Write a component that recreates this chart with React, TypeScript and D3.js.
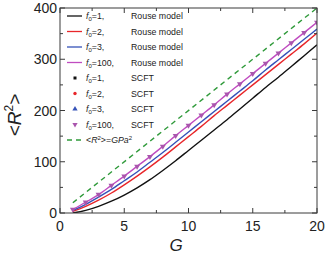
import React from "react";
import * as d3 from "d3";

const G = [1, 2, 3, 4, 5, 6, 7, 8, 9, 10, 11, 12, 13, 14, 15, 16, 17, 18, 19, 20];
const rouseF1 = [0, 5, 13, 23, 35, 49, 65, 83, 102, 122, 142, 162, 182, 203, 224, 245, 265, 286, 307, 328];
const rouseF2 = [3, 13, 25, 39, 55, 72, 90, 109, 129, 149, 169, 190, 210, 230, 250, 270, 290, 310, 330, 351];
const rouseF3 = [5, 17, 31, 46, 63, 80, 99, 118, 138, 158, 178, 198, 218, 238, 258, 279, 299, 319, 339, 359];
const rouseF100 = [7, 21, 36, 54, 72, 91, 110, 130, 151, 171, 191, 211, 232, 252, 272, 292, 312, 332, 352, 372];
const scftF100 = [7, 21, 36, 54, 72, 91, 110, 130, 151, 171, 191, 211, 232, 252, 272, 292, 312, 332, 352, 372];
const idealG = [1, 20];
const idealR2 = [20, 400];

const xTicks = [0, 5, 10, 15, 20];
const yTicks = [0, 100, 200, 300, 400];
const xMinor = [2.5, 7.5, 12.5, 17.5];
const yMinor = [50, 150, 250, 350];

const legendLabels = ["1,", "2,", "3,", "100,", "1,", "2,", "3,", "100,"];
const legendKinds = ["Rouse model", "Rouse model", "Rouse model", "Rouse model", "SCFT", "SCFT", "SCFT", "SCFT"];

const BLACK = "#111111";
const RED = "#e8262a";
const BLUE = "#3552b8";
const MAG = "#c04cc0";
const MAGM = "#a955ad";
const GREEN = "#2f9a3a";
const colors = [BLACK, RED, BLUE, MAG, BLACK, RED, BLUE, MAGM];

export default function App() {
  const W = 326, H = 255;
  const L = 60, R = 317, T = 8, B = 213;
  const x = d3.scaleLinear().domain([0, 20]).range([L, R]);
  const y = d3.scaleLinear().domain([0, 400]).range([B, T]);
  const line = d3.line<[number, number]>().x((d) => x(d[0])).y((d) => y(d[1])).curve(d3.curveMonotoneX);
  const series = [rouseF1, rouseF2, rouseF3, rouseF100];
  const sColors = [BLACK, RED, BLUE, MAG];
  const tri = d3.symbol().type(d3.symbolTriangle).size(15)();
  const triSmall = d3.symbol().type(d3.symbolTriangle).size(12)();
  const font = "'Liberation Sans', Arial, sans-serif";
  const axisColor = "#3a3a3a";

  const legendY0 = 16, legendStep = 15.5;

  return (
    <svg width={W} height={H} style={{ position: "absolute", left: 0, top: 0, background: "#fff" }} fontFamily={font}>
      <defs>
        <clipPath id="plot">
          <rect x={L} y={T} width={R - L} height={B - T} />
        </clipPath>
      </defs>
      <g clipPath="url(#plot)">
        <path
          d={line(idealG.map((g, i) => [g, idealR2[i]]) as [number, number][]) || ""}
          fill="none"
          stroke={GREEN}
          strokeWidth={1.4}
          strokeDasharray="5,4"
        />
        {series.map((s, k) => (
          <path
            key={k}
            d={line(G.map((g, i) => [g, s[i]]) as [number, number][]) || ""}
            fill="none"
            stroke={sColors[k]}
            strokeWidth={1.4}
          />
        ))}
        {G.map((g, i) => (
          <path key={i} d={tri} transform={`translate(${x(g)},${y(scftF100[i])}) rotate(180)`} fill={MAGM} />
        ))}
      </g>
      {/* frame */}
      <rect x={L} y={T} width={R - L} height={B - T} fill="none" stroke={axisColor} strokeWidth={1} />
      {xTicks.map((t) => (
        <g key={"xt" + t}>
          <line x1={x(t)} x2={x(t)} y1={B} y2={B - 5} stroke={axisColor} />
          <line x1={x(t)} x2={x(t)} y1={T} y2={T + 5} stroke={axisColor} />
          <text x={x(t)} y={231} fontSize={14} textAnchor="middle" fill="#222">{t}</text>
        </g>
      ))}
      {xMinor.map((t) => (
        <g key={"xm" + t}>
          <line x1={x(t)} x2={x(t)} y1={B} y2={B - 3} stroke={axisColor} />
          <line x1={x(t)} x2={x(t)} y1={T} y2={T + 3} stroke={axisColor} />
        </g>
      ))}
      {yTicks.map((t) => (
        <g key={"yt" + t}>
          <line x1={L} x2={L + 5} y1={y(t)} y2={y(t)} stroke={axisColor} />
          <line x1={R} x2={R - 5} y1={y(t)} y2={y(t)} stroke={axisColor} />
          <text x={57} y={y(t) + 5} fontSize={14} textAnchor="end" fill="#222">{t}</text>
        </g>
      ))}
      {yMinor.map((t) => (
        <g key={"ym" + t}>
          <line x1={L} x2={L + 3} y1={y(t)} y2={y(t)} stroke={axisColor} />
          <line x1={R} x2={R - 3} y1={y(t)} y2={y(t)} stroke={axisColor} />
        </g>
      ))}
      {/* axis titles */}
      <text x={176} y={251} fontSize={17} fontStyle="italic" textAnchor="middle" fill="#222">G</text>
      <text transform="translate(21,115) rotate(-90)" fontSize={19} textAnchor="middle" fill="#222">
        &lt;<tspan fontStyle="italic">R</tspan>
        <tspan fontSize={12} dy={-8}>2</tspan>
        <tspan dy={8}>&gt;</tspan>
      </text>
      {/* legend */}
      {legendLabels.map((lab, i) => {
        const ly = legendY0 + i * legendStep;
        const c = colors[i];
        return (
          <g key={"lg" + i}>
            {i < 4 && <line x1={67} x2={82} y1={ly} y2={ly} stroke={c} strokeWidth={1.3} />}
            {i === 4 && <rect x={73.5} y={ly - 1.5} width={3} height={3} fill={c} />}
            {i === 5 && <circle cx={75} cy={ly} r={1.7} fill={c} />}
            {i === 6 && <path d={triSmall} transform={`translate(75,${ly})`} fill={c} />}
            {i === 7 && <path d={triSmall} transform={`translate(75,${ly}) rotate(180)`} fill={c} />}
            <text x={86} y={ly + 3} fontSize={8.8} fill="#222">
              <tspan fontStyle="italic">f</tspan>
              <tspan fontSize={6} dy={2}>0</tspan>
              <tspan dy={-2}>={lab}</tspan>
            </text>
            <text x={131} y={ly + 3} fontSize={8.8} fill="#222">{legendKinds[i]}</text>
          </g>
        );
      })}
      <g>
        <line x1={67} x2={82} y1={legendY0 + 8 * legendStep} y2={legendY0 + 8 * legendStep} stroke={GREEN} strokeWidth={1.4} strokeDasharray="5,4" />
        <text x={86} y={legendY0 + 8 * legendStep + 3} fontSize={8.8} fill="#222">
          &lt;<tspan fontStyle="italic">R</tspan>
          <tspan fontSize={6} dy={-3}>2</tspan>
          <tspan dy={3}>&gt;=</tspan>
          <tspan fontStyle="italic">GPa</tspan>
          <tspan fontSize={6} dy={-3}>2</tspan>
        </text>
      </g>
    </svg>
  );
}
